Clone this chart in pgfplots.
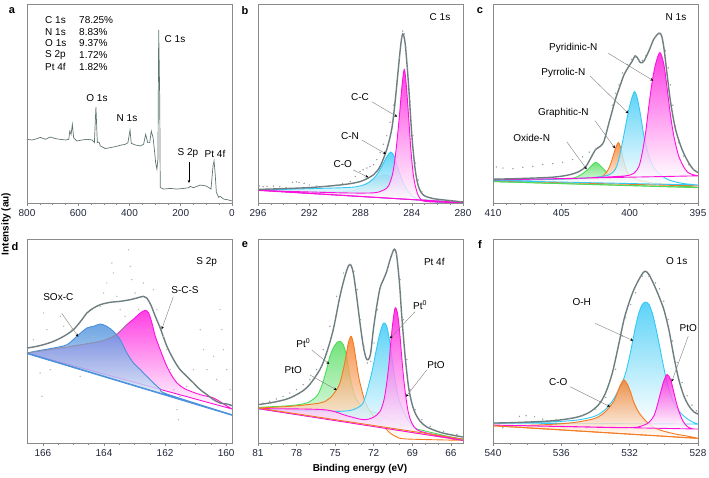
\documentclass[border=0pt]{standalone}
\usepackage{pgfplots}
\pgfplotsset{compat=1.18}
\usepackage{fontspec}
\setmainfont{Liberation Sans}
\usetikzlibrary{arrows.meta}
\definecolor{envcol}{HTML}{6E7D7F}
\definecolor{survcol}{HTML}{5F7572}
\definecolor{magc}{HTML}{FF10DC}
\definecolor{cyac}{HTML}{35C8F5}
\definecolor{oran}{HTML}{F47A20}
\definecolor{grnc}{HTML}{4FDC5A}
\definecolor{bluc}{HTML}{4A8FDC}
\definecolor{coc}{HTML}{B8C4D4}
\definecolor{dotc}{HTML}{9A9A9A}
\definecolor{framec}{HTML}{8A8A8A}
\definecolor{tickc}{HTML}{22263A}
\pgfplotsset{xpsax/.style={scale only axis, width=205pt, anchor=south west, x dir=reverse,
  ytick=\empty, axis line style={draw=framec, line width=0.6pt}, tick style={draw=framec, line width=0.5pt},
  tick align=outside, xtick pos=bottom, major tick length=3pt, minor tick length=2pt,
  ticklabel style={font=\fontsize{10}{12}\selectfont, text=tickc},
  axis on top, enlargelimits=false, clip=true,
  /pgf/number format/assume math mode=true, /pgf/number format/1000 sep={}},
  env/.style={envcol, line width=1.4pt, smooth},
  dots/.style={only marks, mark=*, mark size=0.45pt, draw=dotc, fill=dotc},
  comp/.style={draw=#1, line width=0.9pt, smooth, top color=#1, bottom color=white, fill opacity=0.8}}
\newcommand{\ann}[5]{\node[font=\fontsize{10}{12}\selectfont] at (#1pt,#2pt) {#3};}
\newcommand{\arr}[4]{\draw[gray, line width=0.4pt, -{Stealth[length=3pt,width=2.6pt,black]}] (#1pt,#2pt) -- (#3pt,#4pt);}
\begin{document}
\begin{tikzpicture}
\path[use as bounding box] (0,0) rectangle (709pt,477pt);

% ---------- a: survey
\begin{axis}[xpsax, at={(27pt,274pt)}, height=199pt, xmin=0, xmax=800, ymin=0, ymax=600,
  xtick={0,200,...,800}, minor tick num=3]
\addplot[survcol, line width=0.7pt] coordinates {
(800,192)(780,190)(761,194)(748,198)(728,192)(709,199)(689,194)(670,192)(650,190)(637,192)
(633,217)(628,207)(623,237)(618,197)(605,187)(585,190)(566,192)(546,190)(537,182)(531,289)
(525.5,182)(519,184)(514,172)(494,164)(475,167)(455,170)(436,174)(416,177)(406,182)(398,220)
(393,180)(377,175)(358,172)(345,177)(337,207)(329,182)(321,182)(315,217)(308,197)(303,162)
(298,122)(293,102)(289,132)(286,522)(282,312)(280,47)(267,42)(241,44)(215,42)(189,44)
(169,46)(163,50)(150,46)(124,54)(104,52)(91,47)(82,42)(74,112)(70,127)(66,92)(61,32)
(52,17)(46,20)(33,12)(13,9)(0,6)};
\end{axis}

% ---------- b: C 1s
\begin{axis}[xpsax, at={(258pt,274pt)}, height=199pt, xmin=280, xmax=296, ymin=0, ymax=586,
  xtick={280,284,...,296}, minor tick num=3]
\addplot[comp=coc] coordinates {(296,38)(289.6,33)(288.04,43)(287.26,63)(286.47,80)(285.95,82)(285.43,73)(284.91,53)(284.38,33)(283.6,13)(280,1)} -- cycle;
\addplot[comp=cyac] coordinates {(296,38)(292.2,42)(288.82,46)(287.78,53)(287.26,63)(286.73,83)(286.34,108)(285.95,136)(285.64,150)(285.38,138)(285.04,98)(284.65,58)(284.25,33)(283.86,18)(283.21,8)(281.77,2)(280,1)} -- cycle;
\addplot[comp=magc] coordinates {(296,37)(289.6,30)(286.99,30)(286.21,38)(285.82,50)(285.48,88)(285.22,158)(284.96,258)(284.78,338)(284.59,393)(284.44,353)(284.25,258)(284.07,158)(283.86,78)(283.6,33)(283.34,13)(282.82,4)(280,1)} -- cycle;
\addplot[magc, line width=0.9pt] coordinates {(296,38)(280,1)};
\addplot[env] coordinates {(296,40)(292.2,45)(289.6,53)(288.04,63)(286.99,83)(286.47,108)(285.95,158)(285.56,218)(285.3,298)(285.04,398)(284.85,468)(284.7,498)(284.51,468)(284.25,348)(283.99,198)(283.73,98)(283.47,48)(283.08,23)(282.3,13)(281.25,8)(280,3)};
\addplot[dots] coordinates {(295.9,50)(295.6,48)(295.3,49)(294.8,50)(294.3,48)(293.8,46)(293.3,61)(293.0,62)(292.8,60)(292.4,58)(292.0,53)(291.4,50)(290.9,49)(290.4,51)(289.9,53)(289.4,58)(288.8,63)(288.4,78)(288.04,93)(287.8,98)(287.5,103)(287.26,108)(286.99,113)(286.73,128)(286.47,148)(286.21,173)(285.95,198)(285.69,238)(285.43,288)(285.17,358)(284.96,428)(284.8,488)(284.7,506)(284.59,498)(284.46,458)(284.33,398)(284.12,298)(283.91,198)(283.7,118)(283.5,68)(283.2,33)(282.82,18)(282.3,12)(281.8,8)(281,6)(280.2,4)};
\end{axis}

% ---------- c: N 1s
\begin{axis}[xpsax, at={(493pt,274pt)}, height=199pt, xmin=395, xmax=410, ymin=0, ymax=586,
  xtick={395,400,405,410}, minor tick num=4]
\addplot[comp=grnc] coordinates {(410,63)(405.63,68)(404.17,73)(403.57,83)(403.08,98)(402.72,113)(402.48,120)(402.23,113)(401.87,98)(401.5,83)(401.02,73)(400.05,66)(398.11,58)(395,46)} -- cycle;
\addplot[comp=oran] coordinates {(410,65)(404.42,70)(402.23,76)(401.75,88)(401.46,108)(401.21,138)(401.02,163)(400.83,178)(400.66,163)(400.49,133)(400.29,103)(400.05,83)(399.56,70)(398.83,63)(398.11,58)(395,50)} -- cycle;
\addplot[comp=cyac] coordinates {(410,66)(404.42,71)(402.48,76)(401.5,83)(401.07,98)(400.83,123)(400.58,168)(400.34,218)(400.1,268)(399.85,308)(399.64,328)(399.44,308)(399.2,258)(398.96,198)(398.59,138)(398.23,103)(397.74,83)(397.14,68)(396.17,58)(395,53)} -- cycle;
\addplot[comp=magc] coordinates {(410,68)(404.42,72)(401.99,76)(400.29,80)(399.68,88)(399.32,108)(399.08,148)(398.83,208)(398.59,288)(398.35,358)(398.11,408)(397.79,443)(397.5,408)(397.26,338)(397.01,258)(396.77,198)(396.41,138)(395.92,98)(395.56,86)(395,80)} -- cycle;
\addplot[grnc, line width=0.9pt] coordinates {(410,63)(395,45)};
\addplot[env] coordinates {(410,70)(408.06,72)(405.63,76)(404.42,83)(403.69,93)(403.2,108)(402.84,133)(402.48,158)(402.11,168)(401.87,183)(401.5,238)(401.02,308)(400.78,336)(400.41,378)(400.05,403)(399.81,418)(399.61,433)(399.44,428)(399.2,413)(398.96,418)(398.59,448)(398.23,483)(397.86,500)(397.67,493)(397.5,458)(397.26,378)(397.01,298)(396.65,218)(396.17,158)(395.68,118)(395.32,98)(395,90)};
\addplot[dots] coordinates {(409.76,106)(409.27,103)(408.54,101)(407.82,105)(407.09,108)(406.36,113)(405.63,116)(404.9,120)(404.17,128)(403.45,136)(402.96,150)(402.48,158)(402.11,170)(401.75,198)(401.5,238)(401.26,288)(401.02,323)(400.78,348)(400.53,383)(400.17,408)(399.85,423)(399.56,430)(399.32,420)(399.08,420)(398.83,433)(398.47,463)(398.11,488)(397.86,498)(397.62,488)(397.38,448)(397.18,398)(397.01,348)(396.84,288)(396.65,228)(396.41,178)(396.04,138)(395.68,113)(395.32,98)};
\end{axis}

% ---------- d: S 2p
\begin{axis}[xpsax, at={(27pt,34pt)}, height=204pt, xmin=159.81, xmax=166.52, ymin=0, ymax=612,
  xtick={160,162,164,166}, minor tick num=3]
\addplot[dots, draw=dotc!70, fill=dotc!70] coordinates {(166.31,310)(166.09,210)(166.03,140)(165.98,390)(165.87,340)(165.76,220)(165.65,260)(165.43,380)(165.32,350)(165.21,290)(165.05,340)(164.89,240)(164.78,200)(164.56,260)(164.34,320)(164.12,410)(164.01,450)(163.91,480)(163.74,540)(163.69,510)(163.58,440)(163.47,400)(163.31,380)(163.2,580)(163.14,530)(163.09,490)(162.98,450)(162.87,400)(162.71,480)(162.54,340)(162.38,460)(162.27,400)(162.16,350)(162.05,320)(161.94,280)(161.83,220)(161.72,160)(161.61,100)(161.56,70)(161.51,140)(161.29,170)(161.07,220)(160.85,340)(160.74,280)(160.63,220)(160.41,260)(160.31,190)(160.2,400)(160.14,340)(160.09,280)(159.98,220)(159.87,160)};
\addplot[comp=magc] coordinates {(166.52,270)(165.21,288)(164.12,305)(163.69,320)(163.47,335)(163.25,355)(163.03,372)(162.81,390)(162.65,398)(162.54,390)(162.43,360)(162.32,320)(162.16,280)(161.99,240)(161.83,210)(161.61,180)(161.34,162)(160.85,145)(160.41,135)(160.14,120)(159.81,102)} -- cycle;
\addplot[comp=bluc] coordinates {(166.52,270)(166.09,278)(165.65,285)(165.21,295)(164.89,320)(164.56,345)(164.34,350)(164.12,357)(163.91,350)(163.69,335)(163.47,310)(163.25,270)(163.03,240)(162.81,220)(162.6,200)(162.38,180)(162.16,162)(161.94,147)(159.81,85)} -- cycle;
\addplot[envcol!80, line width=0.6pt, smooth] coordinates {(166.52,270)(165.21,288)(164.12,305)(163.69,320)(163.47,335)(163.25,355)};
\addplot[bluc, line width=0.9pt] coordinates {(166.52,268)(159.81,83)};
\addplot[env, smooth=false] coordinates {(166.52,285)(166.31,288)(165.98,295)(165.65,305)(165.32,320)(165.0,340)(164.72,370)(164.56,390)(164.34,405)(164.12,415)(163.8,422)(163.47,425)(163.14,430)(162.92,435)(162.71,440)(162.6,435)(162.47,415)(162.32,380)(162.16,345)(161.94,290)(161.72,250)(161.51,220)(161.29,200)(161.07,180)(160.85,160)(160.63,145)(160.41,130)(160.2,120)(159.98,117)(159.81,112)};
\end{axis}

% ---------- e: Pt 4f
\begin{axis}[xpsax, at={(258pt,34pt)}, height=204pt, xmin=65.06, xmax=81, ymin=0, ymax=612,
  xtick={66,69,...,81}, minor tick num=2]
\addplot[comp=grnc] coordinates {(81,107)(78.53,112)(77.23,120)(76.45,140)(76.06,170)(75.67,220)(75.41,260)(75.15,285)(74.89,300)(74.63,305)(74.37,295)(74.11,260)(73.85,200)(73.46,140)(72.81,105)(71.51,85)(69.43,50)(65.07,10)} -- cycle;
\addplot[comp=oran] coordinates {(81,105)(78.53,110)(76.19,120)(75.41,135)(74.89,160)(74.63,180)(74.37,220)(74.16,260)(73.98,300)(73.77,320)(73.59,300)(73.38,250)(73.18,200)(72.94,160)(72.68,125)(72.29,95)(71.77,70)(71.25,50)(70.73,30)(70.21,18)(69.43,12)(65.07,8)} -- cycle;
\addplot[comp=cyac] coordinates {(81,103)(74.63,95)(73.07,110)(72.68,135)(72.42,170)(72.16,210)(71.9,260)(71.64,310)(71.38,348)(71.2,360)(70.99,350)(70.78,310)(70.6,260)(70.42,210)(70.21,160)(69.95,120)(69.56,85)(69.17,60)(68.65,40)(67.87,28)(65.07,12)} -- cycle;
\addplot[comp=magc] coordinates {(81,103)(75.93,100)(74.11,82)(72.81,70)(72.03,77)(71.51,95)(71.2,130)(70.99,180)(70.81,240)(70.68,300)(70.52,360)(70.34,405)(70.16,390)(70.0,340)(69.85,270)(69.69,200)(69.51,140)(69.3,90)(69.04,60)(68.65,40)(67.87,30)(65.07,8)} -- cycle;
\addplot[oran, line width=0.9pt] coordinates {(81,105)(65.07,12)};
\addplot[env] coordinates {(81,115)(79.83,122)(78.53,135)(77.23,165)(76.19,220)(75.67,270)(75.15,340)(74.63,440)(74.24,500)(73.98,530)(73.8,535)(73.59,510)(73.33,440)(73.07,360)(72.81,290)(72.6,255)(72.42,250)(72.24,270)(72.03,340)(71.77,410)(71.51,465)(71.25,490)(70.99,515)(70.73,550)(70.47,578)(70.34,580)(70.21,560)(70.0,480)(69.82,380)(69.56,260)(69.3,170)(69.04,120)(68.78,90)(68.39,65)(67.87,48)(66.83,32)(65.79,23)(65.07,18)};
\addplot[dots] coordinates {(80.61,120)(80.09,125)(79.57,132)(79.05,140)(78.53,150)(78.01,160)(77.49,175)(76.97,190)(76.45,220)(75.93,280)(75.41,350)(74.89,440)(74.37,510)(73.85,535)(73.54,515)(73.28,460)(73.02,370)(72.76,290)(72.5,240)(72.24,245)(71.98,300)(71.72,400)(71.46,465)(70.94,520)(70.52,575)(70.21,565)(69.95,490)(69.69,370)(69.43,250)(69.17,160)(68.78,100)(68.26,70)(67.61,50)(66.57,35)(65.53,25)};
\end{axis}

% ---------- f: O 1s
\begin{axis}[xpsax, at={(493pt,34pt)}, height=204pt, xmin=528, xmax=540, ymin=0, ymax=614,
  xtick={528,532,536,540}, minor tick num=3]
\addplot[comp=cyac] coordinates {(540,60)(536.5,64)(534.95,70)(533.98,82)(533.4,102)(533.01,127)(532.72,152)(532.43,182)(532.23,212)(532.04,252)(531.84,302)(531.65,352)(531.46,392)(531.26,417)(531.07,424)(530.87,417)(530.68,392)(530.49,352)(530.29,302)(530.1,252)(529.9,202)(529.71,162)(529.42,122)(529.13,97)(528.74,77)(528.35,64)(528,57)} -- cycle;
\addplot[comp=oran] coordinates {(540,52)(537.48,54)(535.53,60)(534.17,72)(533.59,87)(533.2,107)(532.91,127)(532.72,152)(532.52,177)(532.33,190)(532.14,177)(531.94,152)(531.75,122)(531.46,92)(531.07,67)(530.68,50)(530.1,37)(529.32,27)(528.54,20)(528,14)} -- cycle;
\addplot[comp=magc] coordinates {(540,54)(535.53,49)(532.04,46)(531.26,52)(530.87,62)(530.58,82)(530.39,112)(530.19,152)(530.0,187)(529.81,206)(529.61,192)(529.48,167)(529.32,132)(529.13,97)(528.89,67)(528.64,50)(528.35,43)(528,42)} -- cycle;
\addplot[oran, line width=0.9pt] coordinates {(540,52)(528,14)};
\addplot[env] coordinates {(540,60)(538.45,62)(536.5,67)(535.15,77)(534.37,92)(533.79,117)(533.4,152)(533.01,212)(532.62,302)(532.33,372)(532.04,422)(531.75,462)(531.46,492)(531.22,512)(531.07,517)(530.87,507)(530.58,477)(530.29,442)(530.0,402)(529.71,342)(529.42,262)(529.13,192)(528.83,142)(528.54,112)(528.25,94)(528,87)};
\addplot[dots] coordinates {(539.42,46)(538.93,50)(538.45,80)(538.06,82)(537.57,79)(537.09,72)(536.31,70)(535.53,74)(534.76,82)(533.98,102)(533.4,137)(532.82,222)(532.43,322)(532.23,377)(531.94,417)(531.65,452)(531.26,502)(530.87,502)(530.49,482)(530.25,464)(530.0,427)(529.75,372)(529.48,307)(529.22,242)(528.93,182)(528.64,142)(528.35,114)(528.1,97)};
\end{axis}

% ---------- texts
\begin{scope}[font=\fontsize{10}{12}\selectfont]
\foreach \y/\a/\b in {457/C 1s/78.25\%, 445.3/N 1s/8.83\%, 433.7/O 1s/9.37\%, 422/S 2p/1.72\%, 410.3/Pt 4f/1.82\%}{
  \node[anchor=west, inner sep=0pt] at (45pt,\y pt) {\a};
  \node[anchor=west, inner sep=0pt] at (79pt,\y pt) {\b};}
\end{scope}
\ann{97}{379}{O 1s}{}{}
\ann{127}{359}{N 1s}{}{}
\ann{175}{438}{C 1s}{}{}
\ann{188}{324}{S 2p}{}{}
\ann{215}{323}{Pt 4f}{}{}
\draw[black, line width=0.4pt, -{Stealth[length=3pt,width=2.6pt]}] (189pt,315pt) -- (189pt,294pt);

\ann{440}{460.3}{C 1s}{}{}
\ann{360}{380.3}{C-C}{}{} \arr{371.7}{375.3}{397.3}{360.3}
\ann{350}{341}{C-N}{}{} \arr{361.7}{337}{386}{323}
\ann{342.7}{313}{C-O}{}{} \arr{353.3}{307}{368.3}{299.7}

\ann{676}{460.3}{N 1s}{}{}
\ann{573.3}{428.7}{Pyridinic-N}{}{} \arr{608.3}{423.7}{653.3}{396.3}
\ann{563.3}{403.7}{Pyrrolic-N}{}{} \arr{590}{401}{628.3}{363.7}
\ann{563.3}{363.7}{Graphitic-N}{}{} \arr{595}{356.3}{615}{328.7}
\ann{531.7}{338.7}{Oxide-N}{}{} \arr{566.7}{335.3}{586.7}{307.7}

\ann{206.7}{215.3}{S 2p}{}{}
\ann{58.3}{180.3}{SOx-C}{}{} \arr{61.7}{163.7}{78.3}{140.3}
\ann{185}{187}{S-C-S}{}{} \arr{173.3}{180.3}{161.7}{147.7}

\ann{434.3}{215.3}{Pt 4f}{}{}
\ann{303.3}{133.7}{Pt\textsuperscript{0}}{}{} \arr{311.7}{127}{329.3}{113}
\ann{293.3}{107}{PtO}{}{} \arr{310}{102}{336.7}{87}
\ann{420}{172}{Pt\textsuperscript{0}}{}{} \arr{415}{165.3}{390}{138.7}
\ann{436}{112}{PtO}{}{} \arr{426.7}{107}{406}{80.3}

\ann{676.7}{216}{O 1s}{}{}
\ann{581.7}{175.3}{O-H}{}{} \arr{595}{153.7}{633.3}{136.3}
\ann{688.3}{148.7}{PtO}{}{} \arr{688.3}{141}{671.7}{95.3}
\ann{558.3}{95.3}{C-O}{}{} \arr{570}{90.3}{610}{70.3}

\begin{scope}[font=\fontsize{11}{13}\selectfont\bfseries]
\node at (12pt,466pt) {a};
\node at (245pt,466pt) {b};
\node at (480pt,466pt) {c};
\node at (15pt,230pt) {d};
\node at (245pt,232pt) {e};
\node at (480pt,232pt) {f};
\end{scope}
\begin{scope}[font=\fontsize{10}{12}\selectfont\bfseries]
\node[rotate=90] at (6pt,253pt) {Intensity (au)};
\node at (360pt,8pt) {Binding energy (eV)};
\end{scope}
\end{tikzpicture}
\end{document}
